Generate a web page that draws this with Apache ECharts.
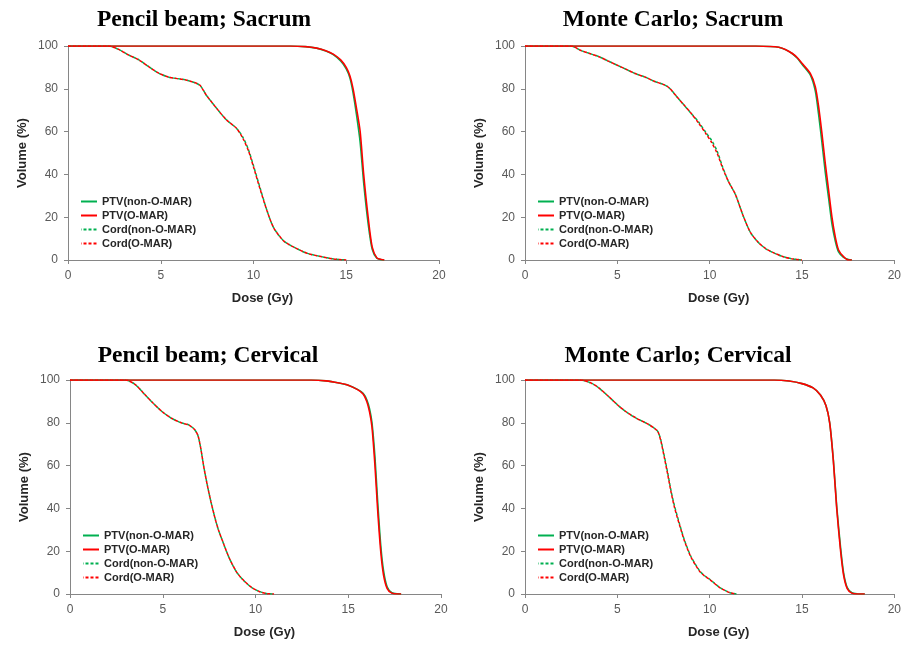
<!DOCTYPE html>
<html>
<head>
<meta charset="utf-8">
<script src="https://cdn.jsdelivr.net/npm/echarts@6/dist/echarts.min.js"></script>
<style>
html,body{margin:0;padding:0;background:#fff;}
#chart{width:904px;height:646px;}
</style>
</head>
<body>
<div id="chart"></div>
<script>
// ---------- Panel titles ----------
const panelTitles = ['Pencil beam; Sacrum', 'Monte Carlo; Sacrum', 'Pencil beam; Cervical', 'Monte Carlo; Cervical'];
const seriesNames = ['PTV(non-O-MAR)', 'PTV(O-MAR)', 'Cord(non-O-MAR)', 'Cord(O-MAR)'];
const xAxisTitle = 'Dose (Gy)';
const yAxisTitle = 'Volume (%)';

// ---------- Panel 1: Pencil beam; Sacrum ----------
const pbSacrumPtvDose     = [0, 12.0, 12.8, 13.4, 13.9, 14.3, 14.7, 15.0, 15.2, 15.37, 15.55, 15.75, 15.94, 16.18, 16.4, 16.65, 16.9, 17.05];
const pbSacrumPtvNonOmar  = [100, 100, 99.7, 99, 97.7, 96, 93, 89.3, 85, 78, 68, 55, 36, 17, 5, 0.8, 0.1, 0];
const pbSacrumPtvOmar     = [100, 100, 99.7, 99, 97.8, 96.2, 93.5, 90, 86, 80, 71, 60, 40, 20, 6, 1, 0.2, 0];
const pbSacrumCordDose    = [0, 2.2, 2.73, 3.27, 3.82, 4.36, 4.91, 5.45, 6.36, 7.09, 7.45, 8.0, 8.55, 9.09, 9.45, 9.73, 10.0, 10.36, 10.73, 11.09, 11.64, 12.18, 12.9, 13.64, 14.3, 15.0];
const pbSacrumCordNonOmar = [100, 100, 98.4, 95.8, 93.5, 90.3, 87.2, 85.4, 84.1, 81.8, 77.1, 71, 65.4, 61.5, 57, 51.5, 44, 33.5, 23, 15, 8.8, 6, 3.1, 1.6, 0.5, 0];
const pbSacrumCordOmar    = [100, 100, 98.4, 95.8, 93.5, 90.3, 87.2, 85.4, 84.1, 81.8, 77.1, 71, 65.4, 61.5, 56.5, 51, 43.5, 33, 23, 15, 8.8, 6, 3.1, 1.6, 0.5, 0];

// ---------- Panel 2: Monte Carlo; Sacrum ----------
const mcSacrumPtvDose     = [0, 12.5, 13.3, 13.74, 14.1, 14.46, 14.75, 15.0, 15.45, 15.72, 15.9, 16.08, 16.26, 16.44, 16.62, 16.8, 16.98, 17.25, 17.52, 17.7];
const mcSacrumPtvNonOmar  = [100, 100, 99.8, 99.4, 98.3, 96.5, 94.3, 91.5, 86.5, 79, 68, 55, 41, 29, 17, 9, 3.8, 1.2, 0.2, 0];
const mcSacrumPtvOmar     = [100, 100, 99.8, 99.4, 98.4, 96.6, 94.5, 91.9, 87.2, 81, 71.7, 59.2, 45.2, 32.7, 20.2, 10.9, 4.7, 1.6, 0, 0];
const mcSacrumCordDose    = [0, 2.5, 3.0, 3.5, 4.0, 4.5, 5.0, 5.5, 6.0, 6.5, 7.0, 7.5, 7.8, 8.2, 8.6, 9.0, 9.4, 9.8, 10.1, 10.4, 10.7, 11.0, 11.4, 11.8, 12.2, 12.6, 13.0, 13.5, 14.0, 14.5, 15.0];
const mcSacrumCordNonOmar = [100, 100, 98, 96.5, 95, 93, 91, 89, 87, 85.5, 83.5, 82, 80.5, 76.5, 72.5, 68.5, 64.5, 59.5, 56, 51, 43.5, 37, 30.5, 21, 13, 8.5, 5.5, 3.2, 1.5, 0.5, 0];
const mcSacrumCordOmar    = [100, 100, 98, 96.5, 95, 93, 91, 89, 87, 85.5, 83.5, 82, 80.5, 76.5, 72.5, 68.5, 64, 59, 55, 50, 43, 37, 30.5, 21, 13, 8.5, 5.5, 3.2, 1.5, 0.5, 0];

// ---------- Panel 3: Pencil beam; Cervical ----------
const pbCervPtvDose       = [0, 13.0, 13.8, 14.5, 15.0, 15.5, 15.8, 16.0, 16.15, 16.28, 16.44, 16.58, 16.75, 16.9, 17.1, 17.35, 17.7, 17.85];
const pbCervPtvNonOmar    = [100, 100, 99.6, 98.6, 97.6, 95.6, 93.8, 90.8, 86.5, 80, 64, 44, 23, 11, 3.2, 0.6, 0.05, 0];
const pbCervPtvOmar       = [100, 100, 99.6, 98.6, 97.6, 95.5, 93.5, 90, 85, 78, 60, 40, 20, 9, 2.5, 0.4, 0, 0];
const pbCervCordDose      = [0, 3.0, 3.5, 4.0, 4.5, 5.0, 5.5, 6.0, 6.4, 6.7, 6.9, 7.05, 7.2, 7.4, 7.6, 7.8, 8.0, 8.3, 8.6, 9.0, 9.4, 9.8, 10.2, 10.6, 11.0];
const pbCervCordNonOmar   = [100, 100, 98, 93.5, 89, 85, 82, 80, 79, 77, 74, 68, 60, 51, 43, 36, 30, 23, 16.5, 10, 6, 3, 1.2, 0.2, 0];
const pbCervCordOmar      = [100, 100, 98, 93.5, 89, 85, 82, 80, 79, 77, 74, 68, 60, 51, 43, 36, 30, 23, 16.5, 10, 6, 3, 1.2, 0.2, 0];

// ---------- Panel 4: Monte Carlo; Cervical ----------
const mcCervPtvDose       = [0, 13.5, 14.3, 15.0, 15.6, 16.0, 16.3, 16.5, 16.7, 16.88, 17.08, 17.25, 17.45, 17.7, 18.0, 18.4];
const mcCervPtvNonOmar    = [100, 100, 99.5, 98.3, 96.3, 93, 88, 80, 62.5, 41, 22.5, 10, 3, 0.6, 0.1, 0];
const mcCervPtvOmar       = [100, 100, 99.5, 98.3, 96.3, 93, 88, 80, 62, 40, 21, 9, 2.5, 0.4, 0, 0];
const mcCervCordDose      = [0, 3.0, 3.6, 4.0, 4.5, 5.1, 5.5, 6.0, 6.7, 7.0, 7.2, 7.36, 7.55, 7.73, 7.9, 8.1, 8.36, 8.64, 9.0, 9.45, 9.7, 10.0, 10.55, 11.1, 11.45];
const mcCervCordNonOmar   = [100, 100, 98.5, 96.3, 92.5, 87.7, 85, 82.3, 79.2, 77.5, 75.8, 71.8, 64.2, 56.5, 48.6, 41, 33, 25, 17.3, 10.9, 8.7, 6.9, 3, 0.6, 0];
const mcCervCordOmar      = [100, 100, 98.5, 96.3, 92.5, 87.7, 85, 82.3, 79.2, 77.5, 75.8, 71.4, 63.6, 55.8, 48, 40.3, 32.5, 24.7, 17, 10.7, 8.6, 6.8, 3, 0.6, 0];

// ---------- build ----------
function pairs(d, v) { return d.map((x, i) => [x, v[i]]); }

const panels = [
  { title: panelTitles[0], ptvDose: pbSacrumPtvDose, ptvNon: pbSacrumPtvNonOmar, ptvO: pbSacrumPtvOmar, cordDose: pbSacrumCordDose, cordNon: pbSacrumCordNonOmar, cordO: pbSacrumCordOmar,
    grid: { left: 68, top: 46, width: 371, height: 214 }, titlePos: [204, 20], legendPos: [75, 191] },
  { title: panelTitles[1], ptvDose: mcSacrumPtvDose, ptvNon: mcSacrumPtvNonOmar, ptvO: mcSacrumPtvOmar, cordDose: mcSacrumCordDose, cordNon: mcSacrumCordNonOmar, cordO: mcSacrumCordOmar,
    grid: { left: 525, top: 46, width: 371, height: 214 }, titlePos: [673, 20], legendPos: [532, 191] },
  { title: panelTitles[2], ptvDose: pbCervPtvDose, ptvNon: pbCervPtvNonOmar, ptvO: pbCervPtvOmar, cordDose: pbCervCordDose, cordNon: pbCervCordNonOmar, cordO: pbCervCordOmar,
    grid: { left: 70, top: 380, width: 371, height: 214 }, titlePos: [208, 356], legendPos: [77, 525] },
  { title: panelTitles[3], ptvDose: mcCervPtvDose, ptvNon: mcCervPtvNonOmar, ptvO: mcCervPtvOmar, cordDose: mcCervCordDose, cordNon: mcCervCordNonOmar, cordO: mcCervCordOmar,
    grid: { left: 525, top: 380, width: 371, height: 214 }, titlePos: [678, 356], legendPos: [532, 525] }
];

const GREEN = '#00B050';
const RED = '#FF0000';
const AXIS = '#868686';
const LABEL = '#595959';
const SANS = '"Liberation Sans", Arial, sans-serif';

const grids = [], xAxes = [], yAxes = [], series = [], legends = [], graphics = [];

panels.forEach((p, i) => {
  grids.push(Object.assign({ containLabel: false }, p.grid));
  xAxes.push({
    type: 'value', gridIndex: i, min: 0, max: 20, interval: 5,
    name: xAxisTitle, nameLocation: 'middle', nameGap: 32,
    nameTextStyle: { fontFamily: SANS, fontSize: 13, fontWeight: 'bold', color: '#262626', padding: [0, 0, 0, 18] },
    axisLine: { show: true, onZero: false, lineStyle: { color: AXIS, width: 1 } },
    axisTick: { show: true, inside: false, length: 4, lineStyle: { color: AXIS } },
    axisLabel: { fontFamily: SANS, fontSize: 12, color: LABEL, margin: 10 },
    splitLine: { show: false }
  });
  yAxes.push({
    type: 'value', gridIndex: i, min: 0, max: 100, interval: 20,
    name: yAxisTitle, nameLocation: 'middle', nameGap: 39, nameRotate: 90,
    nameTextStyle: { fontFamily: SANS, fontSize: 13, fontWeight: 'bold', color: '#262626' },
    axisLine: { show: true, onZero: false, lineStyle: { color: AXIS, width: 1 } },
    axisTick: { show: true, inside: false, length: 4, lineStyle: { color: AXIS } },
    axisLabel: { fontFamily: SANS, fontSize: 12, color: LABEL, margin: 10 },
    splitLine: { show: false }
  });
  const base = { type: 'line', xAxisIndex: i, yAxisIndex: i, symbol: 'none', showSymbol: false, smooth: 0.25, animation: false };
  series.push(Object.assign({}, base, { name: seriesNames[0], data: pairs(p.ptvDose, p.ptvNon), lineStyle: { color: GREEN, width: 1.6 }, itemStyle: { color: GREEN }, z: 2 }));
  series.push(Object.assign({}, base, { name: seriesNames[1], data: pairs(p.ptvDose, p.ptvO), lineStyle: { color: RED, width: 1.6 }, itemStyle: { color: RED }, z: 3 }));
  series.push(Object.assign({}, base, { name: seriesNames[2], data: pairs(p.cordDose, p.cordNon), lineStyle: { color: GREEN, width: 1.5, type: [3, 2], dashOffset: 2.5 }, itemStyle: { color: GREEN }, z: 2 }));
  series.push(Object.assign({}, base, { name: seriesNames[3], data: pairs(p.cordDose, p.cordO), lineStyle: { color: RED, width: 1.5, type: [3, 2] }, itemStyle: { color: RED }, z: 3 }));
  legends.push({
    data: seriesNames, orient: 'vertical', left: p.legendPos[0], top: p.legendPos[1],
    itemWidth: 16, itemHeight: 12, itemGap: 3, selectedMode: false,
    itemStyle: { opacity: 0 },
    textStyle: { fontFamily: SANS, fontSize: 11, fontWeight: 'bold', color: '#262626' }
  });
  graphics.push({
    type: 'text', x: p.titlePos[0], y: p.titlePos[1],
    style: { text: p.title, font: 'bold 23.5px "Liberation Serif", "Times New Roman", serif', fill: '#000', textAlign: 'center', textVerticalAlign: 'middle' }
  });
});

const chart = echarts.init(document.getElementById('chart'), null, { renderer: 'canvas' });
chart.setOption({
  animation: false,
  backgroundColor: '#ffffff',
  grid: grids, xAxis: xAxes, yAxis: yAxes, series: series, legend: legends, graphic: graphics
});
</script>
</body>
</html>
